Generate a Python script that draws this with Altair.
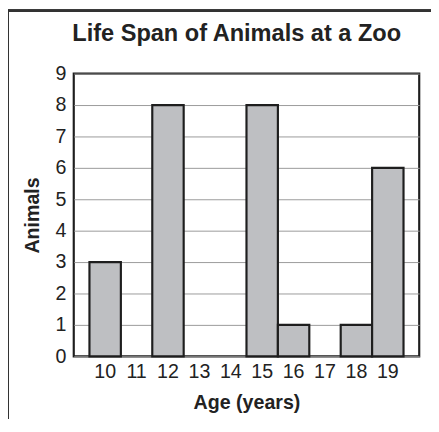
import altair as alt
import pandas as pd

ages = ["10", "11", "12", "13", "14", "15", "16", "17", "18", "19"]
animals = [3, 0, 8, 0, 0, 8, 1, 0, 1, 6]
y_ticks = [0, 1, 2, 3, 4, 5, 6, 7, 8, 9]

df = pd.DataFrame({"age": ages, "animals": animals})
bars_df = df[df["animals"] > 0]

FONT = "Liberation Sans"

x_enc = alt.X("age:N", sort=ages,
              scale=alt.Scale(domain=ages, paddingInner=0, paddingOuter=0.5),
              axis=alt.Axis(title="Age (years)", labelAngle=0, ticks=False,
                            domain=False, labelPadding=6, titlePadding=11))
y_enc = alt.Y("animals:Q",
              scale=alt.Scale(domain=[0, 9], nice=False),
              axis=alt.Axis(title="Animals", values=y_ticks, ticks=False,
                            domain=False, labelPadding=8, titlePadding=13,
                            grid=True, gridColor="#9a9a9a", gridWidth=1))

bars = alt.Chart(bars_df).mark_bar(
    color="#bebfc2", stroke="#1e1e1e", strokeWidth=2.2
).encode(x=x_enc, y=y_enc)

frame_top = alt.Chart(df).mark_rule(color="#333333", strokeWidth=2).encode(
    x=alt.value(-67), x2=alt.value(380), y=alt.value(-64))
frame_left = alt.Chart(df).mark_rule(color="#333333", strokeWidth=2).encode(
    x=alt.value(-67), y=alt.value(-64), y2=alt.value(380))

chart = alt.layer(bars, frame_top, frame_left).properties(
    width=352, height=288,
    background="white",
    title=alt.TitleParams("Life Span of Animals at a Zoo", fontSize=24,
                          font=FONT, fontWeight="bold", color="#222222",
                          anchor="middle", frame="group", dx=-10, offset=-37),
    autosize=alt.AutoSizeParams(type="none"),
    padding={"left": 67, "top": 63, "right": 12, "bottom": 60},
).configure_view(
    stroke="#1e1e1e", strokeWidth=2.2
).configure_axis(
    labelFont=FONT, labelFontSize=20, labelColor="#222222",
    titleFont=FONT, titleFontSize=20, titleFontWeight="bold", titleColor="#222222"
)

chart.save("out.html", embed_options={"renderer": "svg", "actions": False})
